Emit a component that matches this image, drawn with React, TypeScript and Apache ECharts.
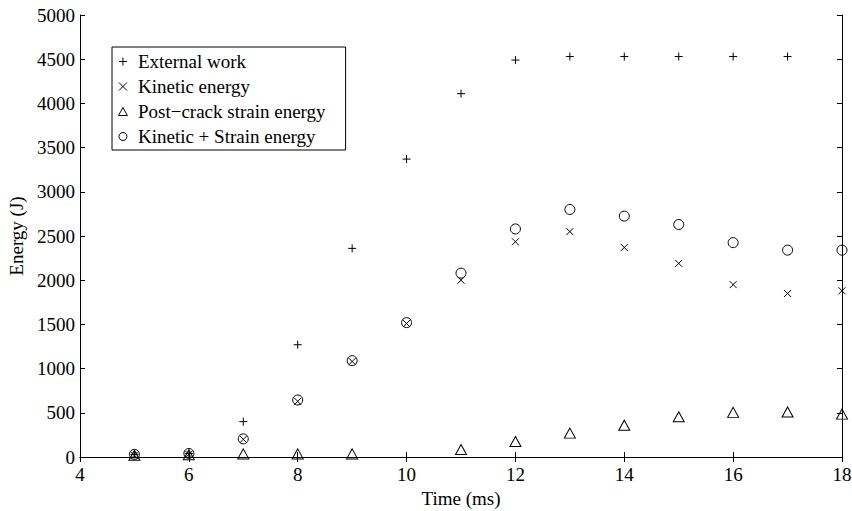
import React, { useEffect, useRef } from "react";
import * as echarts from "echarts";

const time = [5, 6, 7, 8, 9, 10, 11, 12, 13, 14, 15, 16, 17, 18];
const externalWork = [30, 40, 400, 1270, 2360, 3370, 4110, 4490, 4530, 4530, 4530, 4530, 4530, null];
const kineticEnergy = [20, 30, 200, 630, 1080, 1510, 2000, 2435, 2550, 2370, 2190, 1950, 1850, 1880];
const strainEnergy = [20, 25, 35, 35, 35, null, 85, 175, 270, 360, 455, 505, 510, 485];
const combinedEnergy = [30, 40, 205, 645, 1090, 1520, 2080, 2580, 2800, 2725, 2630, 2425, 2340, 2340];
const xTicks = { min: 4, max: 18, interval: 2 };
const yTicks = { min: 0, max: 5000, interval: 500 };

const FONT = "'Liberation Serif', 'Times New Roman', serif";
const PLUS = "path://M0,5L10,5M5,0L5,10";
const CROSS = "path://M0,0L10,10M10,0L0,10";
const TRI = "path://M5,0L10,9L0,9Z";

const pairs = (vals: (number | null)[]) =>
  time.map((t, i) => (vals[i] == null ? [t, "-"] : [t, vals[i]]));

export default function App() {
  const ref = useRef<HTMLDivElement>(null);
  useEffect(() => {
    if (!ref.current) return;
    const chart = echarts.init(ref.current, null, { renderer: "svg" });
    const axisLine = { show: true, lineStyle: { color: "#000", width: 1 } };
    const tick = { show: true, inside: true, length: 5, lineStyle: { color: "#000" } };
    const label = { color: "#000", fontFamily: FONT, fontSize: 19 };
    const mk = (name: string, data: (number | null)[], symbol: string, size: any) => ({
      name,
      type: "scatter",
      data: pairs(data),
      symbol,
      symbolSize: size,
      itemStyle: { color: "transparent", borderColor: "#000", borderWidth: 1, opacity: 1 },
      emphasis: { disabled: true },
    });
    chart.setOption({
      animation: false,
      backgroundColor: "#fff",
      grid: { left: 80, right: 10, top: 15, bottom: 54, containLabel: false, outerBoundsMode: "none" },
      legend: {
        orient: "vertical",
        left: 112,
        top: 47,
        borderColor: "#000",
        borderWidth: 1,
        borderRadius: 0,
        padding: [5, 20, 4, 6],
        itemGap: 6,
        itemWidth: 20,
        itemHeight: 8,
        symbolKeepAspect: true,
        backgroundColor: "#fff",
        itemStyle: { color: "transparent", borderColor: "#000", borderWidth: 1 },
        textStyle: { color: "#000", fontFamily: FONT, fontSize: 19, lineHeight: 19 },
        data: [
          { name: "External work" },
          { name: "Kinetic energy" },
          { name: "Post\u2212crack strain energy", icon: TRI },
          { name: "Kinetic + Strain energy" },
        ],
      },
      xAxis: [
        {
          type: "value",
          ...xTicks,
          position: "bottom",
          name: "Time (ms)",
          nameLocation: "middle",
          nameGap: 31,
          nameTextStyle: label,
          axisLine,
          axisTick: tick,
          axisLabel: { ...label, margin: 8 },
          splitLine: { show: false },
        },
        {
          type: "value",
          ...xTicks,
          position: "top",
          axisLine,
          axisTick: tick,
          axisLabel: { show: false },
          splitLine: { show: false },
        },
      ],
      yAxis: [
        {
          type: "value",
          ...yTicks,
          position: "left",
          name: "Energy (J)",
          nameLocation: "middle",
          nameGap: 52,
          nameTextStyle: label,
          axisLine,
          axisTick: tick,
          axisLabel: { ...label, margin: 5, formatter: (v: number) => String(v) },
          splitLine: { show: false },
        },
        {
          type: "value",
          ...yTicks,
          position: "right",
          axisLine,
          axisTick: tick,
          axisLabel: { show: false },
          splitLine: { show: false },
        },
      ],
      series: [
        mk("External work", externalWork, PLUS, 8),
        mk("Kinetic energy", kineticEnergy, CROSS, 7),
        mk("Post\u2212crack strain energy", strainEnergy, "triangle", [11, 10]),
        mk("Kinetic + Strain energy", combinedEnergy, "circle", 10),
      ],
    });
    return () => chart.dispose();
  }, []);
  return <div ref={ref} style={{ width: 852, height: 511, position: "absolute", left: 0, top: 0 }} />;
}
